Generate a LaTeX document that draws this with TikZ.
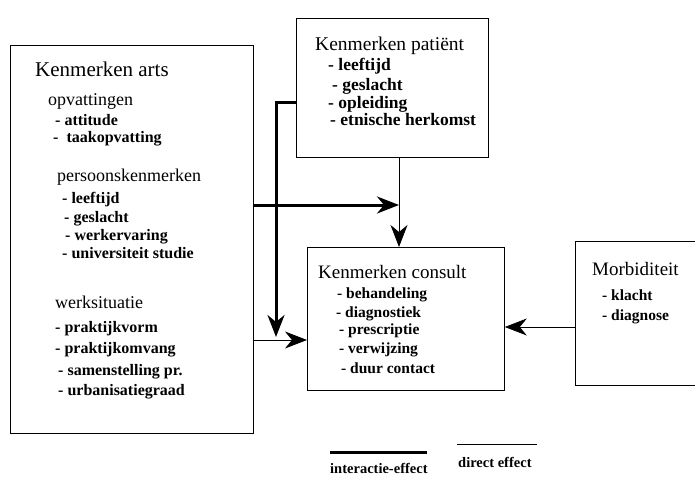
\documentclass[tikz,border=0pt]{standalone}
\usepackage{fontspec}
\setmainfont{Liberation Serif}
\usetikzlibrary{arrows.meta}

\begin{document}
\begin{tikzpicture}[x = 1pt, y = -1pt,
	box/.style = {draw, thick, anchor = north west, inner sep = 0pt},
	titel/.style = {anchor = base west, inner sep = 0pt, font = \fontsize{21}{24}\selectfont},
	kop/.style = {anchor = base west, inner sep = 0pt, font = \fontsize{18}{21}\selectfont},
	item/.style = {anchor = base west, inner sep = 0pt, font = \fontsize{16}{20}\selectfont\bfseries},
	direct/.style = {thick, -{Stealth[length = 22pt, width = 17pt, inset = 7pt]}},
	interactie/.style = {line width = 3pt, -{Stealth[length = 22pt, width = 17pt, inset = 7pt]}}]
	%	page
	\useasboundingbox (0, 0) rectangle (695, 479);
	
	%	boxes
	\node[box, minimum width = 243, minimum height = 388] (arts) at (10, 45) {};
	\node[box, minimum width = 192, minimum height = 139] (patient) at (296, 18) {};
	\node[box, minimum width = 197, minimum height = 143] (consult) at (307, 247) {};
	\node[box, minimum width = 140, minimum height = 144] (morb) at (575, 241) {};
	
	%	kenmerken arts
	\node[titel] (tarts) at (35, 76) {Kenmerken arts};
	\node[kop] (opv) at (48, 105) {opvattingen};
	\node[item] (att) at (55, 125) {- attitude};
	\node[item] (taak) at (53, 142) {-\enspace taakopvatting};
	\node[kop] (pers) at (57, 181) {persoonskenmerken};
	\node[item] (lft) at (62, 203) {- leeftijd};
	\node[item] (gsl) at (64, 222) {- geslacht};
	\node[item] (werk) at (65, 240) {- werkervaring};
	\node[item] (univ) at (62, 258) {- universiteit studie};
	\node[kop] (wsit) at (55, 308) {werksituatie};
	\node[item] (pvorm) at (55, 332) {- praktijkvorm};
	\node[item] (pomv) at (55, 353) {- praktijkomvang};
	\node[item] (samen) at (58, 375) {- samenstelling pr.};
	\node[item] (urban) at (58, 395) {- urbanisatiegraad};
	
	%	kenmerken patient
	\node[titel, font = \fontsize{19.5}{22}\selectfont] (tpat) at (315, 50) {Kenmerken patiënt};
	\node[item, font = \fontsize{17.5}{20}\selectfont\bfseries] (plft) at (328, 70) {- leeftijd};
	\node[item, font = \fontsize{17.5}{20}\selectfont\bfseries] (pgsl) at (332, 90) {- geslacht};
	\node[item, font = \fontsize{17.5}{20}\selectfont\bfseries] (popl) at (328, 108) {- opleiding};
	\node[item, font = \fontsize{17.5}{20}\selectfont\bfseries] (petn) at (330, 125) {- etnische herkomst};
	
	%	kenmerken consult
	\node[titel, font = \fontsize{19}{22}\selectfont] (tcons) at (318, 278) {Kenmerken consult};
	\node[item, font = \fontsize{15.5}{19}\selectfont\bfseries] (beh) at (337, 298) {- behandeling};
	\node[item, font = \fontsize{15.5}{19}\selectfont\bfseries] (diag) at (336, 317) {- diagnostiek};
	\node[item, font = \fontsize{15.5}{19}\selectfont\bfseries] (presc) at (339, 334) {- prescriptie};
	\node[item, font = \fontsize{15.5}{19}\selectfont\bfseries] (verw) at (339, 353) {- verwijzing};
	\node[item, font = \fontsize{15.5}{19}\selectfont\bfseries] (duur) at (341, 373) {- duur contact};
	
	%	morbiditeit
	\node[titel, font = \fontsize{19}{22}\selectfont] (tmorb) at (592, 275) {Morbiditeit};
	\node[item, font = \fontsize{15.5}{19}\selectfont\bfseries] (klacht) at (602, 300) {- klacht};
	\node[item, font = \fontsize{15.5}{19}\selectfont\bfseries] (dgn) at (602, 320) {- diagnose};
	
	%	hulppunten
	\coordinate (knik) at (276, 102);
	\coordinate (ipunt) at (276, 337);
	\coordinate (mid) at (399, 205);
	\coordinate (d) at (0, 340);
	\coordinate (m) at (0, 327);
	
	%	direct effect
	\draw[direct] (mid |- patient.south) -- (mid |- consult.north);
	\draw[direct] (arts.east |- d) -- (consult.west |- d);
	\draw[direct] (morb.west |- m) -- (consult.east |- m);
	
	%	interactie-effect
	\draw[interactie] (patient.west |- knik) -- (knik) -- (ipunt);
	\draw[interactie] (arts.east |- mid) -- (mid);
	
	%	legenda
	\coordinate (la) at (330, 452);
	\coordinate (lb) at (427, 452);
	\coordinate (lc) at (457, 444);
	\coordinate (ld) at (537, 444);
	\draw[line width = 3pt] (la) -- (lb);
	\draw[thick] (lc) -- (ld);
	\node[item, font = \fontsize{14.5}{17}\selectfont\bfseries] (linter) at (330, 473) {interactie-effect};
	\node[item, font = \fontsize{14.5}{17}\selectfont\bfseries] (ldirect) at (458, 467) {direct effect};
\end{tikzpicture}
\end{document}
